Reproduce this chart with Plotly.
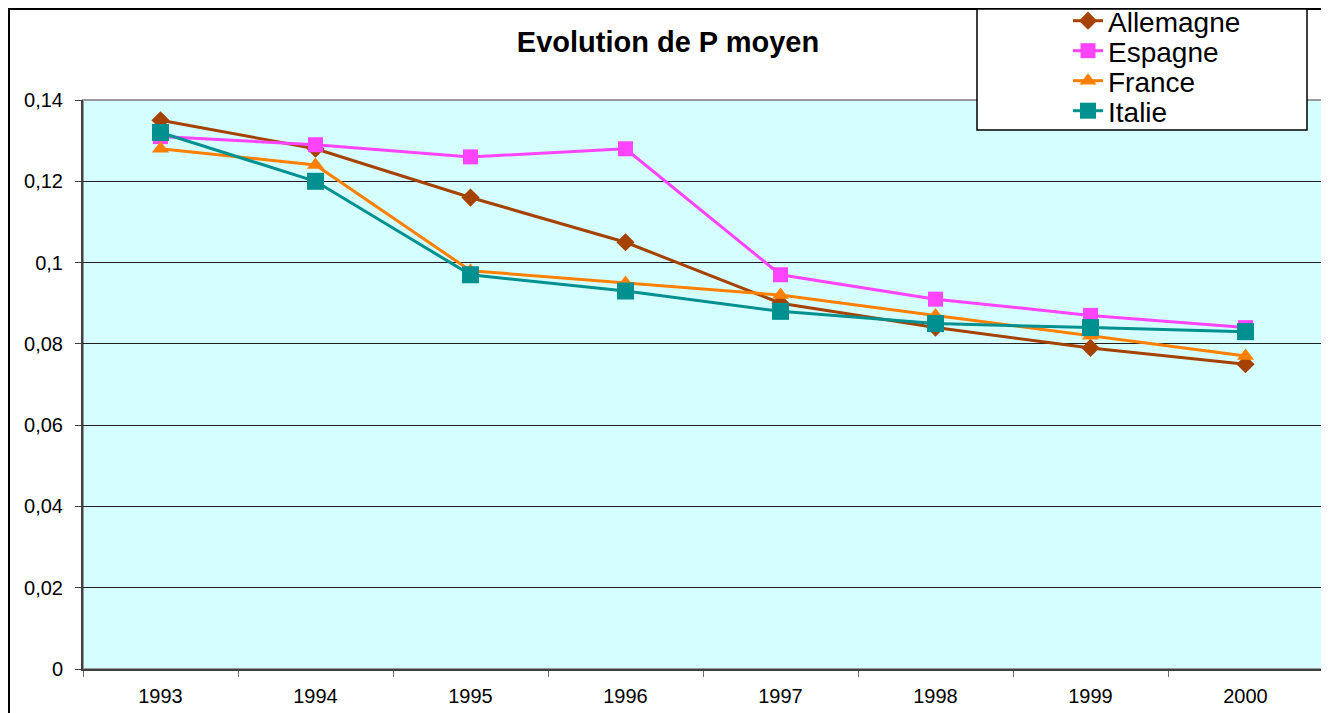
import plotly.graph_objects as go

years = ["1993", "1994", "1995", "1996", "1997", "1998", "1999", "2000"]
allemagne = [0.135, 0.128, 0.116, 0.105, 0.090, 0.084, 0.079, 0.075]
espagne = [0.131, 0.129, 0.126, 0.128, 0.097, 0.091, 0.087, 0.084]
france = [0.128, 0.124, 0.098, 0.095, 0.092, 0.087, 0.082, 0.077]
italie = [0.132, 0.120, 0.097, 0.093, 0.088, 0.085, 0.084, 0.083]

# (name, values, colour, symbol, marker size, legend id, legend row centre y in screen px)
series = [
    ("Allemagne", allemagne, "#A64200", "diamond", 14, "legend", 21),
    ("Espagne", espagne, "#FF44FF", "square", 15, "legend2", 51),
    ("France", france, "#FF8000", "triangle-up", 15, "legend3", 81),
    ("Italie", italie, "#009090", "square", 17, "legend4", 111),
]

OFF = 8  # page body margin
SW, SH = 1329, 713
W, H = SW - OFF, SH - OFF
# plot area in screen pixels
L, R, T, B = 83, 1323, 100, 669


def px(x):
    return (x - L) / (R - L)


def py(y):
    return (B - y) / (B - T)


fig = go.Figure()
for name, vals, color, sym, size, leg, _ in series:
    fig.add_trace(go.Scatter(
        x=years, y=vals, name=name, mode="lines+markers", legend=leg,
        line=dict(color=color, width=3),
        marker=dict(symbol=sym, size=size, color=color, line=dict(width=0)),
    ))

shapes = [
    dict(type="rect", xref="paper", yref="paper", x0=px(9), x1=px(1325), y0=py(760), y1=py(9),
         line=dict(color="black", width=2), fillcolor="rgba(0,0,0,0)", layer="below"),
    dict(type="rect", xref="paper", yref="paper", x0=0, x1=1, y0=0, y1=1,
         line=dict(color="#9A9A9A", width=2), fillcolor="rgba(0,0,0,0)", layer="below"),
    dict(type="rect", xref="paper", yref="paper", x0=px(977), x1=px(1307), y0=py(130), y1=py(9),
         line=dict(color="black", width=1.5), fillcolor="white", layer="above"),
]

legends = {}
for name, vals, color, sym, size, leg, yc in series:
    legends[leg] = dict(x=px(1068), y=py(yc), xanchor="left", yanchor="middle",
                        bgcolor="rgba(0,0,0,0)", borderwidth=0,
                        font=dict(size=28, color="black",
                                  family="Liberation Sans, Arial, sans-serif"))

fig.update_layout(
    width=W, height=H,
    margin=dict(l=L - OFF, r=SW - R, t=T - OFF, b=SH - B, autoexpand=False),
    paper_bgcolor="white",
    plot_bgcolor="#D5FFFF",
    separators=", ",
    font=dict(family="Liberation Sans, Arial, sans-serif", size=20, color="black"),
    title=dict(text="<b>Evolution de P moyen</b>", x=px(668), xanchor="center",
               xref="paper", y=1 - (42 - OFF) / H, yanchor="middle",
               font=dict(size=29, color="black")),
    showlegend=True,
    shapes=shapes,
    **legends,
)

fig.update_xaxes(
    type="category", tickson="boundaries", ticks="outside", ticklen=6,
    tickcolor="#707070", showgrid=False, showline=True, linecolor="#404040",
    linewidth=2, range=[-0.5, 7.5], zeroline=False, tickfont=dict(size=20),
    ticklabelstandoff=8,
)
fig.update_yaxes(
    range=[0, 0.14], dtick=0.02, tick0=0, ticks="outside", ticklen=6,
    tickcolor="#404040", showgrid=True, gridcolor="#202020", gridwidth=1,
    showline=True, linecolor="#404040", linewidth=2, zeroline=False,
    tickfont=dict(size=20), ticklabelstandoff=8,
)

fig.write_html("out.html")
